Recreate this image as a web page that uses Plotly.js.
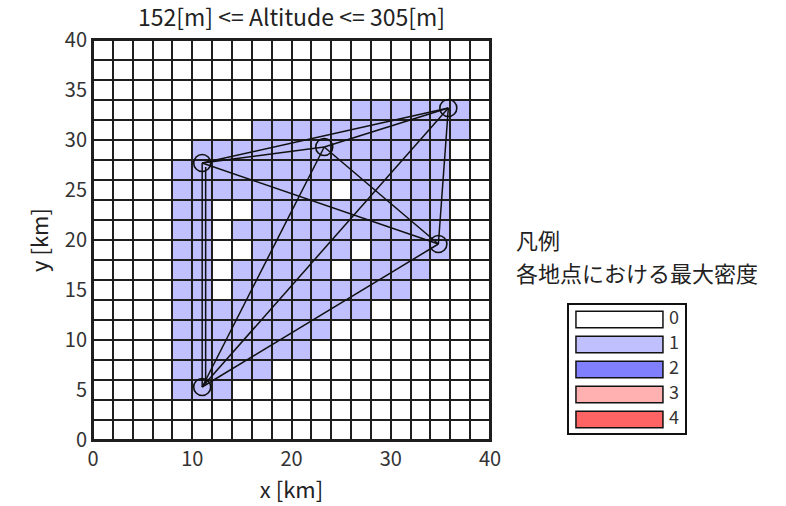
<!DOCTYPE html>
<html>
<head>
<meta charset="utf-8">
<script src="https://cdn.plot.ly/plotly-3.0.1.min.js"></script>
<style>html,body{margin:0;padding:0;background:#fff;}#chart{width:786px;height:506px;}</style>
</head>
<body>
<div id="chart"></div>
<script>
// ---- data ----
const chartTitle = "152[m] <= Altitude <= 305[m]";
const cellSize = 2; // km
// max density per 2km cell, rows listed from top (y 38-40) to bottom (y 0-2)
const densityRows = [
  "00000000000000000000",
  "00000000000000000000",
  "00000000000000000000",
  "00000000000001111110",
  "00000000111111111110",
  "00000111111111111100",
  "00001111111111111100",
  "00001111111101111100",
  "00001100111111111100",
  "00001101111111111100",
  "00001100111110111100",
  "00001101111101111000",
  "00001101111111110000",
  "00001111111111000000",
  "00001111111100000000",
  "00001111111000000000",
  "00001111100000000000",
  "00001110000000000000",
  "00000000000000000000",
  "00000000000000000000"
];
const stationX = [11.0, 23.3, 35.8, 34.8, 11.0];
const stationY = [27.7, 29.3, 33.2, 19.6, 5.3];
const links = [[0,1],[0,2],[0,3],[0,4],[1,2],[1,3],[1,4],[2,3],[2,4],[3,4]];
const extraTrackX = [11.35, 11.35];
const extraTrackY = [27.3, 5.6];
const xTicks = [0, 10, 20, 30, 40];
const yTicks = [0, 5, 10, 15, 20, 25, 30, 35, 40];
const levels = [0, 1, 2, 3, 4];
const levelColors = ["#ffffff", "#c0c0ff", "#8080ff", "#ffb0b0", "#ff6464"];
const legendHeading = "凡例";
const legendSub = "各地点における最大密度";

// ---- build ----
const nRows = densityRows.length, nCols = densityRows[0].length;
const cx = [], cy = [];
for (let i = 0; i < nCols; i++) cx.push(i * cellSize + cellSize / 2);
for (let j = 0; j < nRows; j++) cy.push(j * cellSize + cellSize / 2);
const z = densityRows.slice().reverse().map(r => r.split("").map(Number));
const cs = levels.map((v, i) => [v / (levels.length - 1), levelColors[i]]);

const lx = [], ly = [];
links.forEach(([a, b]) => { lx.push(stationX[a], stationX[b], null); ly.push(stationY[a], stationY[b], null); });
lx.push(extraTrackX[0], extraTrackX[1], null); ly.push(extraTrackY[0], extraTrackY[1], null);

const F = "Noto Sans CJK JP, Liberation Sans, sans-serif";
const gridColor = "#1e1e1e";

const traces = [
  { type: "heatmap", x: cx, y: cy, z: z, zmin: 0, zmax: 4, colorscale: cs, showscale: false,
    xgap: 2, ygap: 2, hoverinfo: "skip", xaxis: "x", yaxis: "y" },
  { type: "scatter", mode: "lines", x: lx, y: ly, line: { color: "#111", width: 1.5 },
    hoverinfo: "skip", xaxis: "x", yaxis: "y" },
  { type: "scatter", mode: "markers", x: stationX, y: stationY,
    marker: { symbol: "circle-open", size: 17, color: "#111", line: { width: 1.6, color: "#111" } },
    hoverinfo: "skip", xaxis: "x", yaxis: "y" },
  { type: "bar", orientation: "h", y: levels, x: levels.map(() => 0.75), base: 0.06, width: 0.66,
    marker: { color: levelColors, line: { color: "#111", width: 1.5 } },
    hoverinfo: "skip", xaxis: "x2", yaxis: "y2" },
  { type: "scatter", mode: "text", y: levels, x: levels.map(() => 0.905), text: levels.map(String),
    textfont: { family: F, size: 18, color: "#333" }, textposition: "middle center",
    hoverinfo: "skip", xaxis: "x2", yaxis: "y2" }
];

const W = 786, H = 506, L = 93, R = 101, T = 40, B = 66;
const pw = W - L - R, ph = H - T - B;
const px = v => (v - L) / pw;
const py = v => (H - B - v) / ph;

const layout = {
  width: W, height: H, margin: { l: L, r: R, t: T, b: B },
  paper_bgcolor: "#fff", plot_bgcolor: "#fff", showlegend: false,
  font: { family: F, color: "#333" },
  title: { text: chartTitle, font: { family: F, size: 23, color: "#222" },
           xref: "paper", x: px(291.5), xanchor: "center", yref: "container", y: 1 - 18 / H, yanchor: "middle" },
  xaxis: { domain: [0, px(490)], range: [0, 40], tickvals: xTicks, ticks: "", showgrid: false, zeroline: false,
           showline: true, mirror: true, linecolor: gridColor, linewidth: 2,
           tickfont: { family: F, size: 20, color: "#333" },
           title: { text: "x [km]", font: { family: F, size: 22, color: "#222" }, standoff: 6 } },
  yaxis: { domain: [0, 1], range: [0, 40], tickvals: yTicks, ticks: "", showgrid: false, zeroline: false,
           showline: true, mirror: true, linecolor: gridColor, linewidth: 2,
           tickfont: { family: F, size: 20, color: "#333" },
           title: { text: "y [km]", font: { family: F, size: 22, color: "#222" }, standoff: 10 } },
  xaxis2: { domain: [px(569), 1], range: [0, 1], anchor: "y2", showticklabels: false, ticks: "",
            showgrid: false, zeroline: false, showline: true, mirror: true, linecolor: "#111", linewidth: 2 },
  yaxis2: { domain: [py(433), py(305)], range: [4.54, -0.58], anchor: "x2", showticklabels: false, ticks: "",
            showgrid: false, zeroline: false, showline: true, mirror: true, linecolor: "#111", linewidth: 2 },
  shapes: [
    { type: "rect", xref: "x domain", yref: "y domain", x0: 0, x1: 1, y0: 0, y1: 1,
      fillcolor: gridColor, line: { width: 0 }, layer: "below" }
  ],
  annotations: [
    { text: legendHeading, xref: "paper", yref: "paper", x: px(514), y: py(239),
      xanchor: "left", yanchor: "middle", align: "left",
      showarrow: false, font: { family: F, size: 22, color: "#222" } },
    { text: legendSub, xref: "paper", yref: "paper", x: px(514), y: py(272),
      xanchor: "left", yanchor: "middle", align: "left",
      showarrow: false, font: { family: F, size: 22, color: "#222" } }
  ]
};

Plotly.newPlot("chart", traces, layout, { staticPlot: true, displayModeBar: false });
</script>
</body>
</html>
